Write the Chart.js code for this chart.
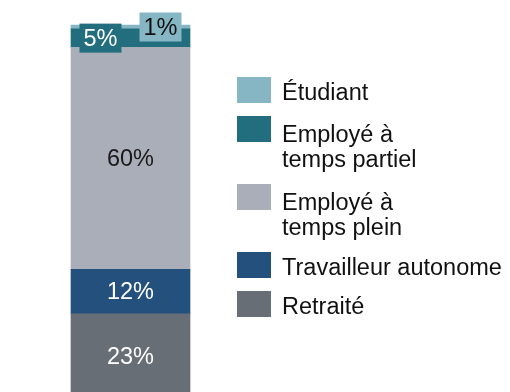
<!DOCTYPE html>
<html>
<head>
<meta charset="utf-8">
<script src="https://cdn.jsdelivr.net/npm/chart.js@4"></script>
<style>
  html, body { margin: 0; padding: 0; background: #fff; overflow: hidden; }
  #wrap { position: relative; width: 510px; height: 399px; }
</style>
</head>
<body>
<div id="wrap"><canvas id="chartStatut"></canvas></div>
<script>
// Statut d'emploi, empilé du bas vers le haut
const statuts = ['Retraité', 'Travailleur autonome', 'Employé à temps plein', 'Employé à temps partiel', 'Étudiant'];
const pourcentages = [23, 12, 60, 5, 1];
const couleurs = ['#686e76', '#24507e', '#a9aeb9', '#236e7e', '#86b6c3'];
const couleursTexte = ['#ffffff', '#ffffff', '#1a1a1a', '#ffffff', '#111111'];
// libellés de légende (ordre d'affichage, haut vers bas)
const legende = [
  { idx: 4, lignes: ['Étudiant'] },
  { idx: 3, lignes: ['Employé à', 'temps partiel'] },
  { idx: 2, lignes: ['Employé à', 'temps plein'] },
  { idx: 1, lignes: ['Travailleur autonome'] },
  { idx: 0, lignes: ['Retraité'] }
];

const police = '23.5px "Liberation Sans", Arial, sans-serif';

const etiquettes = {
  id: 'etiquettes',
  afterDatasetsDraw(chart) {
    const ctx = chart.ctx;
    ctx.save();
    ctx.font = police;
    ctx.textAlign = 'center';
    ctx.textBaseline = 'middle';
    chart.data.datasets.forEach((ds, i) => {
      const bar = chart.getDatasetMeta(i).data[0];
      const cy = (bar.y + bar.base) / 2;
      const texte = ds.data[0] + '%';
      let cx = bar.x;
      if (ds.data[0] < 10) {
        // petites valeurs : étiquette encadrée décalée
        cx = bar.x + (i === 3 ? -30 : 30);
        ctx.fillStyle = couleurs[i];
        ctx.fillRect(cx - 21, cy - 14.5, 42, 29);
      }
      ctx.fillStyle = couleursTexte[i];
      ctx.fillText(texte, cx, cy + 1);
    });
    ctx.restore();
  },
  afterDraw(chart) {
    // légende à droite
    const ctx = chart.ctx;
    ctx.save();
    ctx.font = police;
    ctx.textBaseline = 'alphabetic';
    ctx.textAlign = 'left';
    let y = 77;
    legende.forEach(item => {
      const deuxLignes = item.lignes.length === 2;
      ctx.fillStyle = couleurs[item.idx];
      ctx.fillRect(237, y, 34, 26);
      ctx.fillStyle = '#111111';
      const base = y + (deuxLignes ? 26 : 23);
      item.lignes.forEach((l, k) => ctx.fillText(l, 282, base + k * 25));
      y += deuxLignes ? 68 : 39;
    });
    ctx.restore();
  }
};

new Chart(document.getElementById('chartStatut'), {
  type: 'bar',
  data: {
    labels: [''],
    datasets: statuts.map((s, i) => ({
      label: s,
      data: [pourcentages[i]],
      backgroundColor: couleurs[i],
      borderWidth: 0,
      barThickness: 119
    }))
  },
  options: {
    responsive: true,
    maintainAspectRatio: false,
    animation: false,
    layout: { padding: { left: 0, right: 249, top: 0, bottom: 0 } },
    scales: {
      x: { stacked: true, display: false },
      y: { stacked: true, display: false, min: 0, max: 107.8 }
    },
    plugins: { legend: { display: false }, tooltip: { enabled: false } }
  },
  plugins: [etiquettes]
});
</script>
</body>
</html>
